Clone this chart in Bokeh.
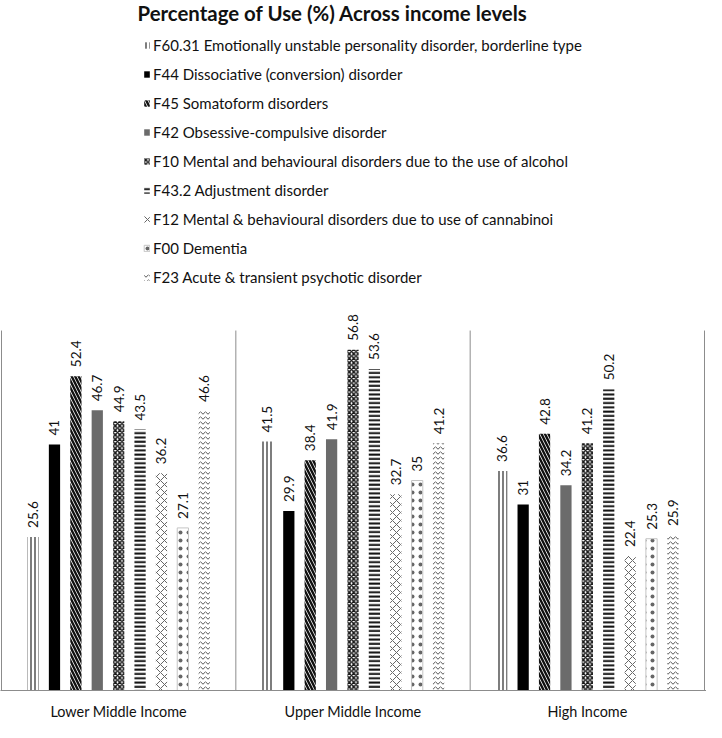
import math
from bokeh.plotting import figure
from bokeh.models import Range1d, Legend, LegendItem, FixedTicker, Label, ColumnDataSource
from bokeh.core.properties import value
from bokeh.embed import file_html
from bokeh.resources import INLINE

# ---------------- data ----------------
title = "Percentage of Use (%) Across income levels"
categories = ["Lower Middle Income", "Upper Middle Income", "High Income"]
series_names = [
    "F60.31 Emotionally unstable personality disorder, borderline type",
    "F44 Dissociative (conversion) disorder",
    "F45 Somatoform disorders",
    "F42 Obsessive-compulsive disorder",
    "F10 Mental and behavioural disorders due to the use of alcohol",
    "F43.2 Adjustment disorder",
    "F12 Mental & behavioural disorders due to use of cannabinoi",
    "F00 Dementia",
    "F23 Acute & transient psychotic disorder",
]
f60_31 = [25.6, 41.5, 36.6]
f44 = [41, 29.9, 31]
f45 = [52.4, 38.4, 42.8]
f42 = [46.7, 41.9, 34.2]
f10 = [44.9, 56.8, 41.2]
f43_2 = [43.5, 53.6, 50.2]
f12 = [36.2, 32.7, 22.4]
f00 = [27.1, 35, 25.3]
f23 = [46.6, 41.2, 25.9]
series_values = [f60_31, f44, f45, f42, f10, f43_2, f12, f00, f23]
y_axis_max = 60

# ---------------- styles ----------------
styles = [
    dict(fill_color="white", line_color=None, hatch_pattern="|", hatch_color="#111111", hatch_scale=4, hatch_weight=1.1),
    dict(fill_color="black", line_color=None),
    dict(fill_color="white", line_color=None, hatch_pattern="\\", hatch_color="#111111", hatch_scale=7, hatch_weight=2.4),
    dict(fill_color="#6b6b6b", line_color=None),
    dict(fill_color="white", line_color=None, hatch_pattern="x", hatch_color="#1a1a1a", hatch_scale=4.5, hatch_weight=1.5),
    dict(fill_color="white", line_color=None, hatch_pattern="-", hatch_color="#111111", hatch_scale=4.3, hatch_weight=2),
    dict(fill_color="white", line_color=None, hatch_pattern="x", hatch_color="#666666", hatch_scale=8, hatch_weight=1),
    dict(fill_color="white", line_color="#c4c4c4", line_width=1, hatch_pattern=".", hatch_color="#666666", hatch_scale=8, hatch_weight=1),
    dict(fill_color="white", line_color=None, hatch_pattern="v", hatch_color="#555555", hatch_scale=5, hatch_weight=1),
]

FONT = "Lato"
W, H = 706, 722
B = 692            # frame bottom (px from top of figure)
TOP60 = 331        # px of the axis maximum
PX = (B - TOP60) / y_axis_max
XS = 703 / len(categories)
x_start = -1 / XS
x_end = x_start + W / XS
SLOT = 0.0913
BW = 0.048

p = figure(width=W, height=H, output_backend="svg", toolbar_location=None,
           x_range=Range1d(x_start, x_end), y_range=Range1d(0, B / PX),
           y_axis_location=None, min_border_left=0, min_border_right=0,
           min_border_top=0, min_border_bottom=H - B)
p.xgrid.visible = False
p.ygrid.visible = False
p.outline_line_color = None
p.background_fill_color = "white"

bounds = list(range(len(categories) + 1))
p.segment(x0=bounds, y0=[0] * len(bounds), x1=bounds, y1=[y_axis_max] * len(bounds),
          line_color="#8c8c8c", line_width=1)

n = len(series_names)
items = []
for i, (name, vals, st) in enumerate(zip(series_names, series_values, styles)):
    xs = [c + 0.5 + (i - (n - 1) / 2) * SLOT for c in range(len(categories))]
    src = ColumnDataSource(dict(x=xs, top=vals, lab=[f"{v:g}" for v in vals]))
    r = p.vbar(x="x", top="top", bottom=0, width=BW, source=src, **st)
    p.text(x="x", y="top", text="lab", source=src, angle=math.pi / 2,
           text_align="left", text_baseline="middle", y_offset=-9,
           text_font=value(FONT), text_font_size="13.5px", text_color="#111111")
    items.append(LegendItem(label=name, renderers=[r]))

ax = p.xaxis[0]
ax.ticker = FixedTicker(ticks=[c + 0.5 for c in range(len(categories))])
ax.major_label_overrides = {c + 0.5: lab for c, lab in enumerate(categories)}
ax.major_tick_in = 0
ax.major_tick_out = 0
ax.minor_tick_in = 0
ax.minor_tick_out = 0
ax.axis_line_color = "#8c8c8c"
ax.major_label_standoff = 12
ax.major_label_text_font = FONT
ax.major_label_text_font_size = "14.4px"
ax.major_label_text_color = "#111111"

LH, SP = 21, 8
leg_h = n * LH + (n - 1) * SP
leg_top = 47 - LH / 2
legend = Legend(items=items, location=(143, B - (leg_top + leg_h)),
                orientation="vertical", padding=0, margin=0, spacing=SP,
                label_height=LH, glyph_height=8, glyph_width=7, label_standoff=3,
                label_text_font=FONT, label_text_font_size="15px", label_text_color="#111111",
                border_line_alpha=0, background_fill_alpha=0)
p.add_layout(legend, "center")

p.add_layout(Label(x=x_start + 137 / XS, y=(B - 1) / PX, text=title,
                   text_align="left", text_baseline="top",
                   text_font=FONT, text_font_size="20.4px", text_font_style="bold",
                   text_color="#111111"))

open("out.html", "w").write(file_html(p, INLINE))
